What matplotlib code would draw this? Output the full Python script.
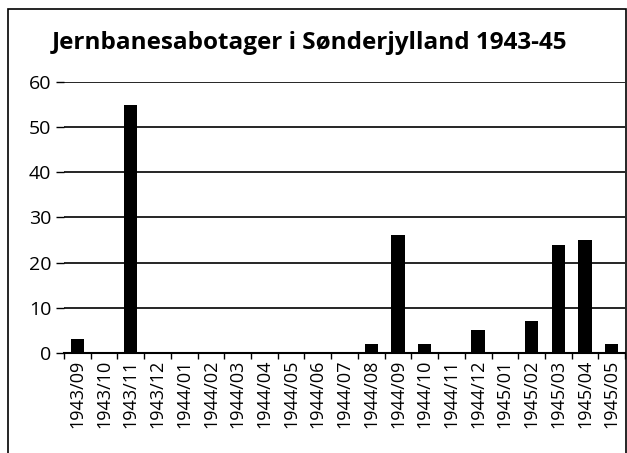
import numpy as np
import matplotlib.pyplot as plt
from matplotlib.patches import Rectangle

months = ["1943/09", "1943/10", "1943/11", "1943/12", "1944/01", "1944/02",
          "1944/03", "1944/04", "1944/05", "1944/06", "1944/07", "1944/08",
          "1944/09", "1944/10", "1944/11", "1944/12", "1945/01", "1945/02",
          "1945/03", "1945/04", "1945/05"]
counts = [3, 0, 55, 0, 0, 0, 0, 0, 0, 0, 0, 2, 26, 2, 0, 5, 0, 7, 24, 25, 2]
yticks = [0, 10, 20, 30, 40, 50, 60]
title = "Jernbanesabotager i Sønderjylland 1943-45"

plt.rcParams['font.family'] = ['Open Sans', 'DejaVu Sans']

fig = plt.figure(figsize=(6.27, 4.53), dpi=100)
ax = fig.add_axes([0.102, 0.221, 0.895, 0.598])

x = np.arange(len(months))
ax.bar(x, counts, width=0.5, color='black', zorder=3)

ax.set_xlim(-0.5, len(months) - 0.5)
ax.set_ylim(0, 60)
ax.set_yticks(yticks)
ax.set_yticklabels([str(v) for v in yticks], fontsize=14)
ax.set_xticks(x)
ax.set_xticklabels(months, rotation=90, fontsize=13)
ax.tick_params(axis='x', length=0, pad=5)
ax.set_xticks(np.arange(-0.5, len(months)), minor=True)
ax.tick_params(axis='x', which='minor', length=4, width=1, color='black', direction='out')
ax.tick_params(axis='y', length=6, width=1, color='black', pad=3)

ax.grid(axis='y', color='black', linewidth=1.2, zorder=0)
for s in ['left', 'right', 'top']:
    ax.spines[s].set_visible(False)
ax.spines['bottom'].set_linewidth(1.5)

fig.text(0.493, 0.905, title, ha='center', va='center', fontsize=17.5, fontweight='bold')

# outer frame
fig.patches.append(Rectangle((0.013, -0.01), 0.985, 0.99, transform=fig.transFigure,
                             fill=False, edgecolor='black', linewidth=1.2))

plt.savefig("out.png", dpi=100)
plt.close()
